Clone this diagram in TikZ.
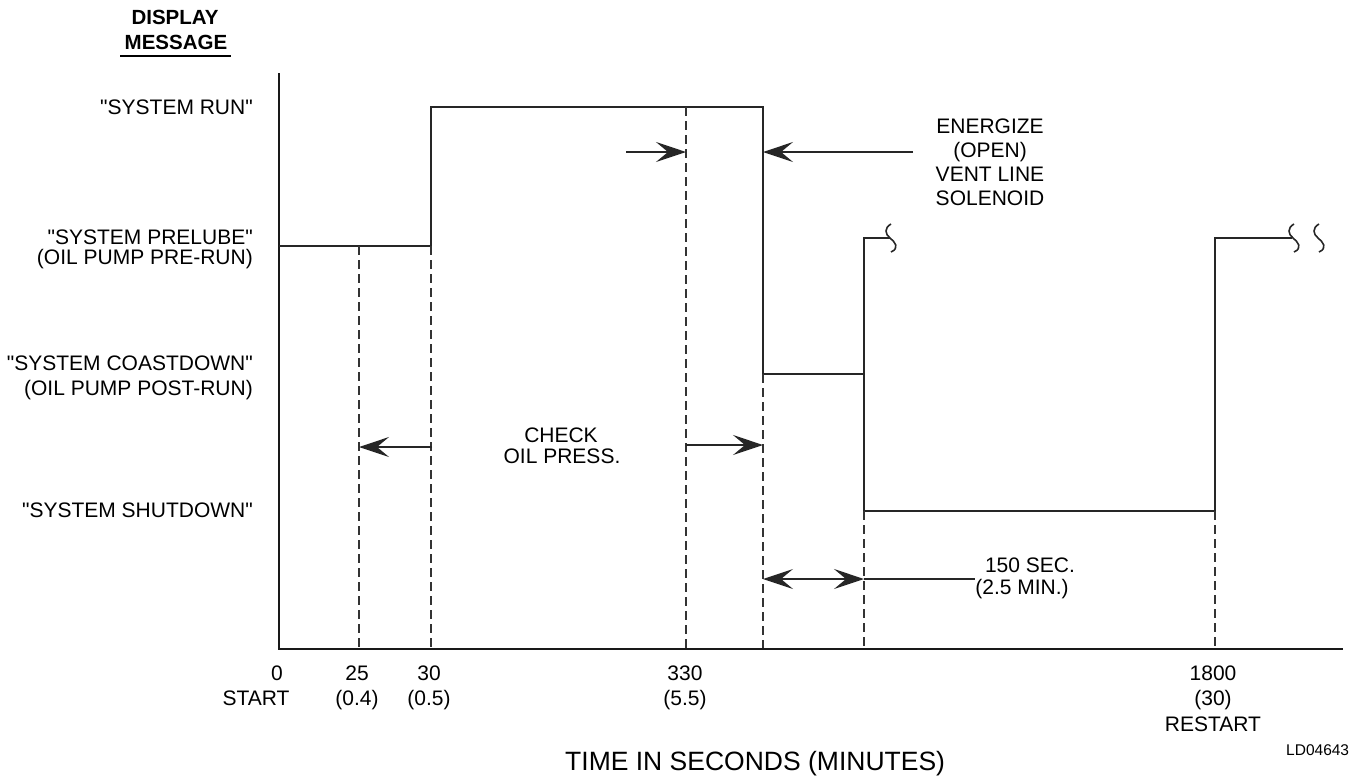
\documentclass[tikz,border=0pt]{standalone}
\usepackage{fontspec}
\setmainfont{Liberation Sans}
\newfontfamily\lsans{Liberation Sans}
\usetikzlibrary{arrows.meta}
\begin{document}
\begin{tikzpicture}[x=1pt,y=-1pt,
  sig/.style={line width=1.6pt, draw=black!85},
  dsh/.style={line width=1.4pt, draw=black!80, dash pattern=on 9pt off 5pt},
  ax/.style={line width=2.8pt, draw=black!90},
  arr/.style={line width=1.4pt, draw=black!85, -{Stealth[length=30pt,width=20pt,inset=12pt]}},
  darr/.style={line width=1.4pt, draw=black!85, {Stealth[length=30pt,width=20pt,inset=12pt]}-{Stealth[length=30pt,width=20pt,inset=12pt]}},
  lbl/.style={font=\lsans\fontsize{21}{24}\selectfont, inner sep=0pt},
  lblR/.style={lbl, anchor=base east},
  lblC/.style={lbl, anchor=base},
  hdr/.style={font=\lsans\fontsize{20.5}{24}\selectfont\bfseries, inner sep=0pt, anchor=base},
  squig/.pic={\draw[sig] (1,-14) .. controls (-6,-10) and (-5,-4) .. (0,0) .. controls (5,4) and (10,10) .. (1,14);}
]
\useasboundingbox (0,0) rectangle (1362,777);

% header
\node[hdr] (hd1) at (175,24.5) {DISPLAY};
\node[hdr] (hd2) at (176,49.5) {MESSAGE};
\coordinate (ul1) at (120,56);
\coordinate (ul2) at (231,56);
\draw[line width=1.5pt] (ul1) -- (ul2);

% axes
\coordinate (ytop) at (279,73);
\coordinate (orig) at (279,649);
\coordinate (xend) at (1343,649);
\draw[ax] (ytop) -- (orig) -- (xend);

% level labels
\node[lblR] (lrun) at (253,114.5) {"SYSTEM RUN"};
\node[lblR] (lpre1) at (253,244.5) {"SYSTEM PRELUBE"};
\node[lblR] (lpre2) at (253,264.5) {(OIL PUMP PRE-RUN)};
\node[lblR] (lcst1) at (253,370.5) {"SYSTEM COASTDOWN"};
\node[lblR] (lcst2) at (253,395.5) {(OIL PUMP POST-RUN)};
\node[lblR] (lshd) at (253,517.5) {"SYSTEM SHUTDOWN"};

% signal
\coordinate (p0) at (279,246);
\coordinate (p1) at (431,246);
\coordinate (p2) at (431,107);
\coordinate (p3) at (763,107);
\coordinate (p4) at (763,374);
\coordinate (p5) at (864,374);
\draw[sig] (p0) -- (p1) -- (p2) -- (p3) -- (p4) -- (p5);
\coordinate (q0) at (864,511);
\coordinate (q1) at (864,238);
\coordinate (q2) at (890,238);
\coordinate (r1) at (1215,511);
\coordinate (r2) at (1215,238);
\coordinate (r3) at (1292,238);
\draw[sig] (q2) -- (q1) -- (q0) -- (r1) -- (r2) -- (r3);
\pic at (q2) {squig};
\pic at (1293,238) {squig};
\pic at (1318,238) {squig};

% dashed verticals
\coordinate (b25) at (359,648);
\coordinate (b30) at (431,648);
\coordinate (b330) at (686,648);
\coordinate (b763) at (763,648);
\coordinate (b864) at (864,648);
\coordinate (b1800) at (1215,648);
\coordinate (t25) at (359,246);
\coordinate (t330) at (686,107);
\draw[dsh] (t25) -- (b25);
\draw[dsh] (p1) -- (b30);
\draw[dsh] (t330) -- (b330);
\draw[dsh] (p4) -- (b763);
\draw[dsh] (q0) -- (b864);
\draw[dsh] (r1) -- (b1800);

% energize arrows
\coordinate (e1s) at (626,152);
\coordinate (e1t) at (686,152);
\coordinate (e2s) at (913,152);
\coordinate (e2t) at (763,152);
\draw[arr] (e1s) -- (e1t);
\draw[arr] (e2s) -- (e2t);
\node[lblC] (en1) at (990,133.5) {ENERGIZE};
\node[lblC] (en2) at (990,157.5) {(OPEN)};
\node[lblC] (en3) at (990,181.5) {VENT LINE};
\node[lblC] (en4) at (990,205.5) {SOLENOID};

% check oil press arrows
\coordinate (c1s) at (432,447);
\coordinate (c1t) at (359,447);
\coordinate (c2s) at (686,445);
\coordinate (c2t) at (763,445);
\draw[arr] (c1s) -- (c1t);
\draw[arr] (c2s) -- (c2t);
\node[lblC] (ck1) at (561,442.5) {CHECK};
\node[lblC] (ck2) at (562,463.5) {OIL PRESS.};

% 150 sec
\coordinate (d1) at (763,579);
\coordinate (d2) at (864,579);
\coordinate (d3) at (975,579);
\draw[darr] (d1) -- (d2);
\draw[line width=1.4pt, draw=black!85] (d2) -- (d3);
\node[lblC] (s1) at (1030,572.5) {150 SEC.};
\node[lblC] (s2) at (1022,594.5) {(2.5 MIN.)};

% axis labels
\node[lblC] (x0) at (277,680) {0};
\node[lblC] (x0b) at (256,705) {START};
\node[lblC] (x25) at (357,680) {25};
\node[lblC] (x25b) at (357,705) {(0.4)};
\node[lblC] (x30) at (429,680) {30};
\node[lblC] (x30b) at (429,705) {(0.5)};
\node[lblC] (x330) at (685,680) {330};
\node[lblC] (x330b) at (685,705) {(5.5)};
\node[lblC] (x1800) at (1213,680) {1800};
\node[lblC] (x1800b) at (1213,705) {(30)};
\node[lblC] (x1800c) at (1213,731) {RESTART};

\node[font=\lsans\fontsize{26.5}{30}\selectfont, inner sep=0pt, anchor=base west] (ttl) at (565,770) {TIME IN SECONDS (MINUTES)};
\node[font=\lsans\fontsize{15.5}{18}\selectfont, inner sep=0pt, anchor=base west] (ld) at (1286,755.5) {LD04643};
\end{tikzpicture}
\end{document}
